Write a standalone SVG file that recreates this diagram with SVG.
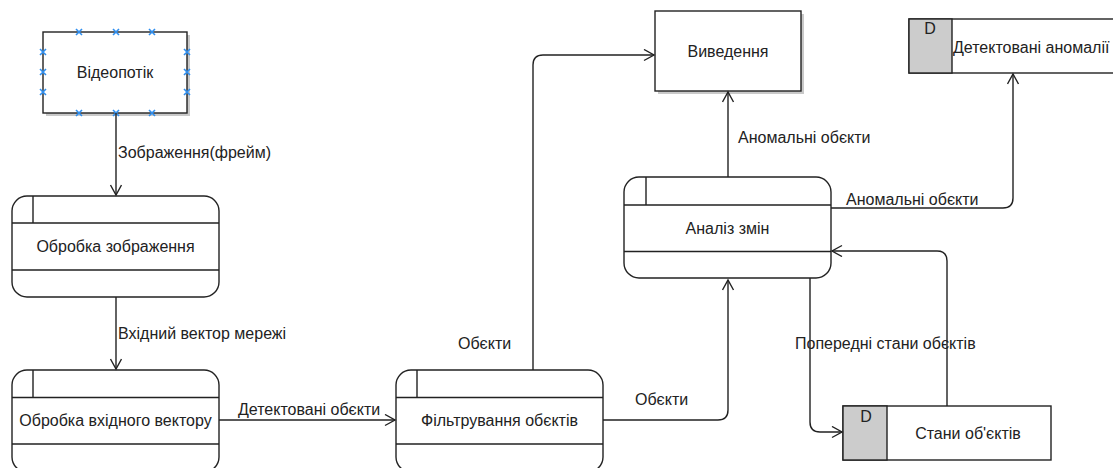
<svg xmlns="http://www.w3.org/2000/svg" width="1113" height="468" viewBox="0 0 1113 468">
<defs>
<marker id="arr" markerUnits="userSpaceOnUse" markerWidth="14" markerHeight="14" refX="11" refY="6" orient="auto">
<path d="M1,0.5 L11,6 L1,11.5" fill="none" stroke="#222" stroke-width="1.4"/>
</marker>
<g id="xm"><path d="M-3,-3 L3,3 M-3,3 L3,-3" stroke="#2f8ff0" stroke-width="1.6"/></g>
</defs>
<style>
.box{fill:#fff;stroke:#222;stroke-width:1.4}
.ln{fill:none;stroke:#222;stroke-width:1.4}
.sh{fill:#888;opacity:0.45}
.grey{fill:#ccc;stroke:#222;stroke-width:1.4}
text{font-family:"Liberation Sans",Arial,sans-serif;font-size:16px;fill:#222}
.c{text-anchor:middle}
.conn{fill:none;stroke:#222;stroke-width:1.4;marker-end:url(#arr)}
</style>
<rect width="1113" height="468" fill="#fff"/>

<g id="videopotik">
<rect class="sh" x="46" y="35" width="144" height="81"/>
<rect class="box" x="43" y="32" width="144" height="81"/>
<use href="#xm" x="79" y="32"/><use href="#xm" x="116" y="32"/><use href="#xm" x="152" y="32"/>
<use href="#xm" x="79" y="113"/><use href="#xm" x="116" y="113"/><use href="#xm" x="152" y="113"/>
<use href="#xm" x="43" y="52"/><use href="#xm" x="43" y="72"/><use href="#xm" x="43" y="92"/>
<use href="#xm" x="187" y="52"/><use href="#xm" x="187" y="72"/><use href="#xm" x="187" y="92"/>
<text class="c" x="115" y="78">Відеопотік</text>
</g>

<g id="obrobka-zobr">
<rect class="box" x="12" y="196" width="207" height="101" rx="15"/>
<path class="ln" d="M12,223 H219 M12,270 H219 M33,196 V223"/>
<text class="c" x="115.5" y="252">Обробка зображення</text>
</g>

<g id="obrobka-vect">
<rect class="box" x="12" y="370" width="207" height="102" rx="15"/>
<path class="ln" d="M12,397.5 H219 M12,444 H219 M33,370 V397.5"/>
<text class="c" x="115.5" y="426">Обробка вхідного вектору</text>
</g>

<g id="filtr">
<rect class="box" x="396" y="370" width="207" height="102" rx="15"/>
<path class="ln" d="M396,397.5 H603 M396,444 H603 M417,370 V397.5"/>
<text class="c" x="499.5" y="426">Фільтрування обєктів</text>
</g>

<g id="analiz">
<rect class="box" x="624" y="177" width="207" height="101" rx="15"/>
<path class="ln" d="M624,205 H831 M624,251.5 H831 M646,177 V205"/>
<text class="c" x="727.5" y="234">Аналіз змін</text>
</g>

<g id="vyvedennya">
<rect class="sh" x="658" y="14" width="146" height="80"/>
<rect class="box" x="655" y="11" width="146" height="80"/>
<text class="c" x="728" y="57">Виведення</text>
</g>

<g id="det-anomalii">
<rect class="box" x="909" y="19" width="215" height="54"/>
<rect class="grey" x="909" y="19" width="43" height="54"/>
<text class="c" x="930" y="34">D</text>
<text x="953" y="53">Детектовані аномалії</text>
</g>

<g id="stany">
<rect class="box" x="843" y="406" width="208" height="54"/>
<rect class="grey" x="843" y="406" width="44" height="54"/>
<text class="c" x="866" y="422">D</text>
<text class="c" x="968" y="439">Стани об'єктів</text>
</g>

<g id="connectors">
<path class="conn" d="M116,113 V195"/>
<path class="conn" d="M116,297 V369"/>
<path class="conn" d="M219,420 H395"/>
<path class="conn" d="M533,370 V65 Q533,55 543,55 H654"/>
<path class="conn" d="M603,420 H718 Q728,420 728,410 V280"/>
<path class="conn" d="M728,177 V92"/>
<path class="conn" d="M831,208 H1003 Q1013,208 1013,198 V74"/>
<path class="conn" d="M810,278 V422 Q810,432 820,432 H842"/>
<path class="conn" d="M947,406 V261 Q947,251 937,251 H832"/>
<text x="118" y="158">Зображення(фрейм)</text>
<text x="118" y="339">Вхідний вектор мережі</text>
<text x="238" y="415">Детектовані обєкти</text>
<text x="458" y="349">Обєкти</text>
<text x="635" y="405">Обєкти</text>
<text x="738" y="143">Аномальні обєкти</text>
<text x="846" y="205">Аномальні обєкти</text>
<text x="795" y="349">Попередні стани обєктів</text>
</g>
</svg>
